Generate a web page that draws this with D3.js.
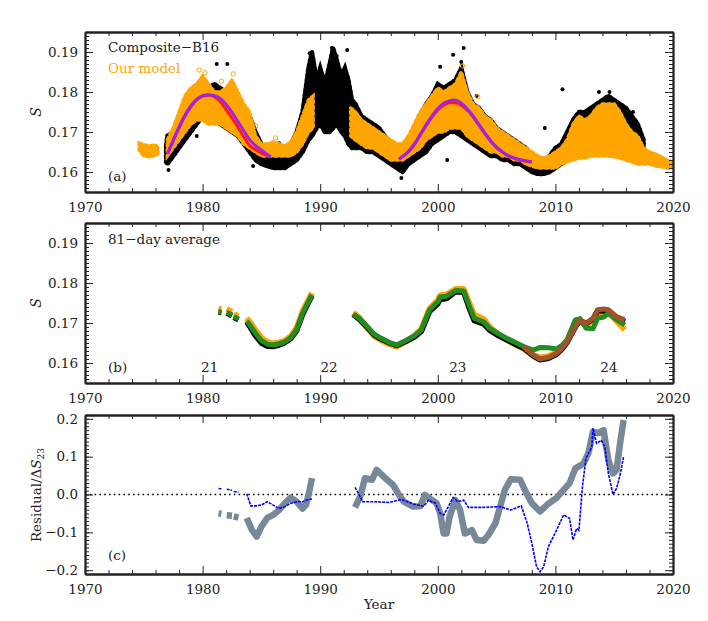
<!DOCTYPE html>
<html>
<head>
<meta charset="utf-8">
<script src="https://cdn.jsdelivr.net/npm/d3@7"></script>
<style>
body { margin: 0; background: #fff; }
text { font-family: "DejaVu Serif", serif; }
</style>
</head>
<body>
<svg width="708" height="621"></svg>
<script>
// ---- panel (a): composite daily S (envelope of the dense scatter) ----
var compYear = [1976.9,1977,1977.5,1978,1978.5,1979,1979.5,1980,1980.5,1981,1981.5,1982,1982.5,1983,1983.5,1984,1984.5,1985,1985.5,1986,1986.5,1987,1987.5,1988,1988.5,1989,1989.3,1989.7,1990,1990.4,1990.8,1991.1,1991.4,1991.8,1992.1,1992.4,1992.7,1993,1993.5,1994,1994.5,1995,1995.5,1996,1996.5,1997,1997.5,1998,1998.5,1999,1999.5,2000,2000.5,2001,2001.5,2002,2002.5,2003,2003.5,2004,2004.5,2005,2005.5,2006,2006.5,2007,2007.5,2008,2008.5,2009,2009.5,2010,2010.5,2011,2011.5,2012,2012.5,2013,2013.5,2014,2014.5,2015,2015.5,2016,2016.5,2017,2017.5];
var compLo = [0.1625,0.162,0.164,0.166,0.168,0.170,0.172,0.174,0.174,0.173,0.172,0.171,0.170,0.169,0.167,0.165,0.163,0.162,0.1615,0.161,0.161,0.161,0.162,0.163,0.165,0.168,0.169,0.171,0.172,0.170,0.170,0.171,0.172,0.170,0.169,0.167,0.166,0.166,0.166,0.165,0.165,0.164,0.163,0.162,0.161,0.160,0.162,0.163,0.164,0.165,0.167,0.168,0.169,0.170,0.170,0.169,0.168,0.167,0.166,0.165,0.164,0.164,0.163,0.163,0.162,0.162,0.161,0.160,0.1595,0.1595,0.160,0.161,0.162,0.163,0.164,0.165,0.166,0.166,0.167,0.168,0.168,0.167,0.166,0.165,0.164,0.164,0.164];
var compHi = [0.1665,0.169,0.170,0.172,0.176,0.178,0.180,0.181,0.181,0.182,0.181,0.180,0.179,0.177,0.176,0.174,0.170,0.167,0.166,0.166,0.166,0.166,0.167,0.170,0.175,0.186,0.190,0.183,0.186,0.182,0.187,0.191,0.188,0.184,0.186,0.183,0.178,0.177,0.174,0.173,0.172,0.171,0.169,0.167,0.166,0.166,0.168,0.171,0.174,0.177,0.179,0.182,0.181,0.182,0.183,0.186,0.180,0.177,0.176,0.174,0.173,0.171,0.170,0.169,0.168,0.167,0.166,0.164,0.1625,0.1625,0.164,0.166,0.167,0.170,0.173,0.175,0.175,0.176,0.177,0.178,0.179,0.178,0.177,0.176,0.174,0.172,0.168];
var compOutYear = [1977.1,1979.5,1981.2,1982.1,1983.6,1984.3,1986.5,1989.1,1991.0,1991.4,1992.3,1996.9,2000.2,2000.8,2001.3,2002.0,2002.2,2003.3,2009.1,2010.6,2013.7,2014.6,2016.6];
var compOutS = [0.1605,0.169,0.187,0.187,0.168,0.1615,0.1672,0.1897,0.191,0.189,0.1905,0.1585,0.1863,0.163,0.1893,0.1875,0.191,0.179,0.171,0.1807,0.180,0.180,0.175];

// ---- panel (a): model daily S (orange open circles) ----
var modelYear = [1974.6,1975,1975.5,1976,1976.2,null,1977,1977.5,1978,1978.5,1979,1979.5,1980,1980.5,1981,1981.5,1982,1982.5,1983,1983.5,1984,1984.5,1985,1985.5,1986,1986.5,1987,1987.5,1988,1988.5,1989,1989.4,null,1992.6,1993,1993.5,1994,1994.5,1995,1995.5,1996,1996.5,1997,1997.5,1998,1998.5,1999,1999.5,2000,2000.5,2001,2001.5,2002,2002.5,2003,2003.5,2004,2004.5,2005,2005.5,2006,2006.5,2007,2007.5,2008,2008.5,2009,2009.5,2010,2010.5,2011,2011.5,2012,2012.5,2013,2013.5,2014,2014.5,2015,2015.5,2016,2016.5,2017,2017.5,2018,2018.5,2019,2019.5,2020];
var modelLo = [0.1655,0.164,0.1638,0.1642,0.1645,null,0.164,0.166,0.168,0.170,0.172,0.173,0.173,0.172,0.172,0.172,0.171,0.170,0.169,0.167,0.166,0.165,0.164,0.164,0.164,0.164,0.164,0.164,0.165,0.167,0.170,0.171,null,0.169,0.168,0.167,0.166,0.166,0.165,0.164,0.163,0.163,0.163,0.164,0.165,0.166,0.168,0.169,0.170,0.170,0.171,0.171,0.171,0.169,0.168,0.167,0.166,0.165,0.165,0.164,0.164,0.163,0.163,0.162,0.1615,0.161,0.161,0.161,0.161,0.162,0.1625,0.163,0.1635,0.1635,0.164,0.164,0.164,0.164,0.1638,0.1635,0.163,0.1625,0.162,0.162,0.162,0.1615,0.1613,0.161,0.161];
var modelHi = [0.1672,0.1668,0.1665,0.1668,0.166,null,0.168,0.171,0.175,0.179,0.181,0.182,0.184,0.182,0.180,0.180,0.181,0.183,0.180,0.177,0.175,0.169,0.167,0.167,0.1675,0.167,0.1665,0.1675,0.170,0.174,0.178,0.179,null,0.176,0.175,0.173,0.172,0.171,0.170,0.169,0.168,0.167,0.167,0.169,0.172,0.175,0.177,0.179,0.181,0.180,0.181,0.182,0.185,0.180,0.177,0.176,0.174,0.173,0.171,0.170,0.169,0.168,0.167,0.166,0.165,0.164,0.1635,0.164,0.165,0.166,0.168,0.172,0.174,0.173,0.174,0.176,0.177,0.177,0.177,0.175,0.172,0.170,0.169,0.166,0.165,0.1645,0.1638,0.163,0.1625];
var modelOutYear = [1979.1,1979.7,1980.2,1981.6,1982.6,1983.8,1984.5,1986.2,2002.1,2003.4];
var modelOutS = [0.1805,0.1855,0.1848,0.1827,0.1845,0.1745,0.1715,0.1685,0.1865,0.1788];

// ---- panel (a): fitted cycle shapes ----
var fit21Year = [1977,1977.5,1978,1978.5,1979,1979.5,1980,1980.5,1981,1981.5,1982,1982.5,1983,1983.5,1984,1984.5,1985,1985.5,1985.8];
var fit21Red = [0.1645,0.1678,0.1710,0.1740,0.1763,0.1780,0.1790,0.1792,0.1788,0.1776,0.1756,0.1735,0.1712,0.1688,0.1666,0.1656,0.1647,0.1641,0.1638];
var fit21Purple = [0.1645,0.1679,0.1712,0.1742,0.1765,0.1782,0.1791,0.1793,0.1791,0.1784,0.1769,0.1749,0.1726,0.1703,0.1681,0.1666,0.1655,0.1644,0.1638];
var fit23Year = [1996.7,1997,1997.5,1998,1998.5,1999,1999.5,2000,2000.5,2001,2001.3,2001.7,2002,2002.5,2003,2003.5,2004,2004.5,2005,2005.5,2006,2006.5,2007,2007.5,2008];
var fit23Red = [0.1632,0.1638,0.1650,0.1668,0.1692,0.1715,0.1737,0.1755,0.1767,0.1773,0.1774,0.1772,0.1767,0.1755,0.1738,0.1717,0.1696,0.1677,0.1661,0.1649,0.1640,0.1634,0.1630,0.1627,0.1625];
var fit23Purple = [0.1632,0.1639,0.1652,0.1670,0.1694,0.1718,0.1740,0.1759,0.1772,0.1778,0.1780,0.1778,0.1772,0.1758,0.1740,0.1719,0.1698,0.1678,0.1662,0.1650,0.1641,0.1635,0.1631,0.1628,0.1625];

// ---- panel (b): 81-day averages (null = gap) ----
var avgYear = [1981.35,1981.6,null,1982.05,1982.5,null,1982.65,1983.05,null,1983.75,1984,1984.5,1985,1985.5,1986,1986.5,1987,1987.5,1988,1988.5,1989,1989.3,null,1992.8,1993.3,1994,1994.6,1995.1,1995.9,1996.5,1997.35,1998,1998.6,1999.3,2000,2000.2,2000.75,2001.5,2002.2,2002.7,2003.1,2003.9,2004.4,2005.1,2005.85,2006.6,2007.3,2008.1,2008.7,2009.4,2010.1,2010.6,2011,2011.7,2012.1,2012.6,2013.2,2013.6,2014.1,2014.5,2015.2,2015.9];
var avgModel = [0.1736,0.1735,null,0.1735,0.1728,null,0.1722,0.1717,null,0.1712,0.1703,0.1682,0.1663,0.1652,0.1649,0.1651,0.1656,0.1667,0.1688,0.1729,0.1758,0.1775,null,0.1726,0.1714,0.1688,0.1667,0.1658,0.1647,0.1641,0.1655,0.1668,0.1685,0.1736,0.1757,0.1769,0.1771,0.1785,0.1785,0.1748,0.1720,0.1710,0.1690,0.1673,0.1658,0.1646,0.1636,0.1620,0.1614,0.1617,0.1626,0.1640,0.1655,0.1700,0.1705,0.1695,0.1705,0.1725,0.1725,0.1728,0.1705,0.1683];
var avgComp = [0.1727,0.1726,null,0.1725,0.1718,null,0.1714,0.1708,null,0.1702,0.1692,0.1668,0.1650,0.1642,0.1641,0.1645,0.1651,0.1661,0.1681,0.1721,0.1751,0.1768,null,0.1721,0.1710,0.1689,0.1670,0.1661,0.1650,0.1644,0.1655,0.1665,0.1679,0.1729,0.1748,0.1759,0.1761,0.1778,0.1777,0.1735,0.1706,0.1698,0.1682,0.1669,0.1658,0.1647,0.1637,0.1618,0.1608,0.1612,0.1622,0.1636,0.1652,0.1690,0.1707,0.1698,0.1710,0.1731,0.1730,0.1731,0.1713,0.1703];
var avgGreen = [0.1728,0.1727,null,0.1727,0.1720,null,0.1716,0.1710,null,0.1705,0.1696,0.1674,0.1656,0.1647,0.1645,0.1648,0.1653,0.1663,0.1683,0.1724,0.1753,0.1770,null,0.1722,0.1712,0.1691,0.1672,0.1663,0.1651,0.1645,0.1657,0.1668,0.1683,0.1733,0.1753,0.1765,0.1767,0.1781,0.1780,0.1741,0.1712,0.1703,0.1687,0.1674,0.1662,0.1651,0.1641,0.1632,0.1639,0.1638,0.1635,0.1645,0.1658,0.1708,0.1711,0.1687,0.1686,0.1712,0.1715,0.1724,0.1708,0.1695];
var brownYear = [2007.3,2008.1,2008.7,2009.4,2010.1,2010.6,2011,2011.7,2012.1,2012.6,2013.2,2013.6,2014.1,2014.5,2015.2,2015.9];
var brownS = [0.1640,0.1620,0.1610,0.1614,0.1624,0.1638,0.1653,0.1691,0.1708,0.1699,0.1712,0.1733,0.1735,0.1733,0.1716,0.1708];
var cycleNames = ["21","22","23","24"];
var cycleYear = [1980.6,1990.75,2001.7,2014.55];

// ---- panel (c): residuals ----
var resYear = [1981.35,1981.6,null,1982.05,1982.5,null,1982.65,1983.05,null,1983.75,1984.2,1984.6,1985,1985.5,1986,1986.5,1987,1987.5,1988,1988.5,1988.8,1989.1,1989.3,null,1992.96,1993.4,1993.8,1994.4,1994.8,1995.4,1996.2,1996.7,1997.1,1997.9,1998.5,1998.9,1999.3,1999.9,2000.2,2000.5,2000.75,2001,2001.5,2001.9,2002.3,2002.9,2003.3,2003.9,2004.3,2004.9,2005.3,2005.7,2006.2,2007,2007.4,2008,2008.7,2009.3,2010.1,2010.7,2011.2,2011.7,2012.4,2012.8,2013.2,2013.6,2014.1,2014.5,2014.9,2015.2,2015.5,2015.8];
var resGray = [-0.050,-0.051,null,-0.055,-0.056,null,-0.058,-0.061,null,-0.062,-0.094,-0.111,-0.085,-0.062,-0.054,-0.041,-0.023,-0.008,-0.019,-0.037,-0.027,0.012,0.043,null,-0.034,-0.006,0.043,0.039,0.065,0.047,0.025,-0.001,-0.019,-0.032,-0.031,-0.001,-0.010,-0.023,-0.050,-0.103,-0.103,-0.059,-0.015,-0.041,-0.103,-0.094,-0.120,-0.122,-0.107,-0.076,-0.032,0.012,0.040,0.039,0.012,-0.023,-0.045,-0.027,-0.009,0.012,0.030,0.069,0.082,0.109,0.166,0.162,0.170,0.091,0.056,0.065,0.135,0.197];
var blueYear = [1981.35,1981.6,null,1982.05,1982.5,null,1982.65,1983.05,null,1983.75,1984.1,1984.5,1985,1985.5,1986,1986.5,1987,1987.5,1988,1988.5,1989,1989.3,null,1992.96,1993.3,1993.6,1994.6,1995.9,1996.9,1997.9,1998.8,1999.2,1999.8,2000.2,2000.5,2000.9,2001.3,2001.7,2002.2,2002.6,2003.9,2005.3,2006.2,2007.1,2007.6,2008,2008.4,2008.7,2009,2009.4,2010.1,2010.7,2011.2,2011.5,2011.8,2012,2012.3,2012.6,2013.1,2013.2,2013.5,2013.9,2014.2,2014.5,2014.9,2015.2,2015.5,2015.8];
var resBlue = [0.016,0.015,null,0.014,0.011,null,0.008,0.006,null,0.002,-0.030,-0.030,-0.028,-0.019,-0.028,-0.037,-0.032,-0.023,-0.019,-0.019,-0.013,-0.012,null,0.019,0.000,-0.019,-0.019,-0.021,-0.013,-0.025,-0.031,-0.015,-0.023,-0.050,-0.054,-0.032,-0.008,-0.019,-0.015,-0.034,-0.034,-0.032,-0.041,-0.030,-0.076,-0.129,-0.191,-0.204,-0.191,-0.138,-0.094,-0.054,-0.063,-0.120,-0.090,-0.095,0.021,0.096,0.126,0.175,0.135,0.143,0.126,0.056,0.000,0.016,0.052,0.100];

// ---- axes ----
var xMajor = [1970,1980,1990,2000,2010,2020];
var sMajor = [0.16,0.17,0.18,0.19];
var resMajor = [-0.2,-0.1,0.0,0.1,0.2];

var svg = d3.select("svg");
var scX = d3.scaleLinear().domain([1970, 2020]).range([85, 673]);
var yA = d3.scaleLinear().domain([0.155, 0.195]).range([192, 32]);
var yB = d3.scaleLinear().domain([0.155, 0.195]).range([383, 223]);
var yC = d3.scaleLinear().domain([-0.21, 0.21]).range([574, 415]);

function zip(xs, a, b) {
    return xs.map(function (x, i) { return {x: x, a: a[i], b: b ? b[i] : null}; });
}

function drawFrame(scY, yMaj, yMinStep, fmt) {
    var top = scY.range()[1], bot = scY.range()[0];
    var xMin = d3.range(1972, 2020, 2).filter(function (v) { return v % 10 != 0; });
    var dom = scY.domain();
    var n = Math.round((dom[1] - dom[0]) / yMinStep);
    var yMin = d3.range(0, n + 1).map(function (i) { return dom[0] + i * yMinStep; });

    var axes = [
        [d3.axisBottom(scX).tickValues(xMajor).tickSize(-8).tickPadding(10).tickFormat(d3.format("d")), "translate(0," + bot + ")"],
        [d3.axisBottom(scX).tickValues(xMin).tickSize(-4).tickFormat(""), "translate(0," + bot + ")"],
        [d3.axisTop(scX).tickValues(xMajor).tickSize(-8).tickFormat(""), "translate(0," + top + ")"],
        [d3.axisTop(scX).tickValues(xMin).tickSize(-4).tickFormat(""), "translate(0," + top + ")"],
        [d3.axisLeft(scY).tickValues(yMaj).tickSize(-8).tickPadding(7).tickFormat(fmt), "translate(85,0)"],
        [d3.axisLeft(scY).tickValues(yMin).tickSize(-4).tickFormat(""), "translate(85,0)"],
        [d3.axisRight(scY).tickValues(yMaj).tickSize(-8).tickFormat(""), "translate(673,0)"],
        [d3.axisRight(scY).tickValues(yMin).tickSize(-4).tickFormat(""), "translate(673,0)"]
    ];
    axes.forEach(function (ax) {
        var g = svg.append("g").attr("transform", ax[1]).call(ax[0].tickSizeOuter(0));
        g.attr("font-family", null).attr("font-size", null);
        g.selectAll("line").attr("stroke", "#222").attr("stroke-width", 1);
        g.select(".domain").attr("stroke", "#222").attr("stroke-width", 1.8);
        g.selectAll("text").attr("fill", "#222").style("font-size", "13.5px").style("font-family", "'DejaVu Serif', serif");
    });
}

function label(x, y, txt, color) {
    return svg.append("text").attr("x", x).attr("y", y).attr("fill", color || "#222")
        .style("font-size", "13.5px").text(txt);
}

// ======== panel (a) ========
svg.append("defs").append("clipPath").attr("id", "clipA")
    .append("rect").attr("x", 85).attr("y", 32).attr("width", 588).attr("height", 160);
var gA = svg.append("g").attr("clip-path", "url(#clipA)");

var areaA = d3.area()
    .defined(function (d) { return d.x != null; })
    .x(function (d) { return scX(d.x); })
    .y0(function (d) { return yA(d.a); })
    .y1(function (d) { return yA(d.b); });

// black band, with a dotted fringe so the edge reads like scattered points
gA.append("path").datum(zip(compYear, compLo, compHi))
    .attr("fill", "#000").attr("stroke", "#000").attr("stroke-width", 4.5)
    .attr("stroke-dasharray", "2.5,2.5").attr("stroke-linecap", "round")
    .attr("d", areaA);
gA.selectAll("circle.comp").data(zip(compOutYear, compOutS)).enter().append("circle")
    .attr("class", "comp").attr("r", 2).attr("fill", "#000")
    .attr("cx", function (d) { return scX(d.x); }).attr("cy", function (d) { return yA(d.a); });

gA.append("path").datum(zip(modelYear, modelLo, modelHi))
    .attr("fill", "#ffa500").attr("stroke", "#ffa500").attr("stroke-width", 3.5)
    .attr("stroke-dasharray", "3,3").attr("stroke-linecap", "round")
    .attr("d", areaA);
gA.selectAll("circle.model").data(zip(modelOutYear, modelOutS)).enter().append("circle")
    .attr("class", "model").attr("r", 2.2).attr("fill", "none").attr("stroke", "#ffa500").attr("stroke-width", 1)
    .attr("cx", function (d) { return scX(d.x); }).attr("cy", function (d) { return yA(d.a); });

var lineA = d3.line().x(function (d) { return scX(d.x); }).y(function (d) { return yA(d.a); }).curve(d3.curveMonotoneX);
[[fit21Year, fit21Red, "#ff1a1a"], [fit21Year, fit21Purple, "#a020f0"],
 [fit23Year, fit23Red, "#ff1a1a"], [fit23Year, fit23Purple, "#a020f0"]].forEach(function (f) {
    gA.append("path").datum(zip(f[0], f[1])).attr("fill", "none")
        .attr("stroke", f[2]).attr("stroke-width", 3).attr("d", lineA);
});

drawFrame(yA, sMajor, 0.001, d3.format(".2f"));
label(108, 52, "Composite\u2212B16");
label(108, 73, "Our model", "#ffa500");
label(108, 181, "(a)");

// ======== panel (b) ========
var lineB = d3.line()
    .defined(function (d) { return d.x != null && d.a != null; })
    .x(function (d) { return scX(d.x); }).y(function (d) { return yB(d.a); });
[[avgYear, avgModel, "#ffa500", 6], [avgYear, avgComp, "#000", 5.5],
 [avgYear, avgGreen, "#228b22", 5], [brownYear, brownS, "#a0522d", 5]].forEach(function (s) {
    svg.append("path").datum(zip(s[0], s[1])).attr("fill", "none")
        .attr("stroke", s[2]).attr("stroke-width", s[3]).attr("stroke-linejoin", "round").attr("d", lineB);
});
svg.selectAll("text.cycle").data(cycleNames).enter().append("text")
    .attr("class", "cycle").attr("x", function (d, i) { return scX(cycleYear[i]); })
    .attr("y", yB(0.1578)).attr("text-anchor", "middle").attr("fill", "#222")
    .style("font-size", "13.5px").text(function (d) { return d; });

drawFrame(yB, sMajor, 0.001, d3.format(".2f"));
label(108, 244, "81\u2212day average");
label(108, 372, "(b)");

// ======== panel (c) ========
svg.append("line").attr("x1", scX(1970)).attr("x2", scX(2020)).attr("y1", yC(0)).attr("y2", yC(0))
    .attr("stroke", "#000").attr("stroke-width", 1.6).attr("stroke-dasharray", "1.6,3.2");
var lineC = d3.line()
    .defined(function (d) { return d.x != null && d.a != null; })
    .x(function (d) { return scX(d.x); }).y(function (d) { return yC(d.a); });
svg.append("path").datum(zip(resYear, resGray)).attr("fill", "none")
    .attr("stroke", "#778899").attr("stroke-width", 6.5).attr("stroke-linejoin", "round").attr("d", lineC);
svg.append("path").datum(zip(blueYear, resBlue)).attr("fill", "none")
    .attr("stroke", "#0000ff").attr("stroke-width", 1.6).attr("stroke-dasharray", "3,1").attr("d", lineC);

drawFrame(yC, resMajor, 0.01, d3.format(".1f"));
label(108, 560, "(c)");

// axis titles
svg.append("text").attr("transform", "translate(41,112) rotate(-90)").attr("text-anchor", "middle")
    .attr("fill", "#222").style("font-size", "14px").style("font-style", "italic").text("S");
svg.append("text").attr("transform", "translate(41,303) rotate(-90)").attr("text-anchor", "middle")
    .attr("fill", "#222").style("font-size", "14px").style("font-style", "italic").text("S");
var rt = svg.append("text").attr("transform", "translate(41,495) rotate(-90)").attr("text-anchor", "middle")
    .attr("fill", "#222").style("font-size", "13.5px");
rt.append("tspan").text("Residual/\u0394");
rt.append("tspan").style("font-style", "italic").text("S");
rt.append("tspan").attr("dy", 3).style("font-size", "9px").text("23");
svg.append("text").attr("x", 379).attr("y", 609).attr("text-anchor", "middle").attr("fill", "#222")
    .style("font-size", "13.5px").text("Year");
</script>
</body>
</html>
